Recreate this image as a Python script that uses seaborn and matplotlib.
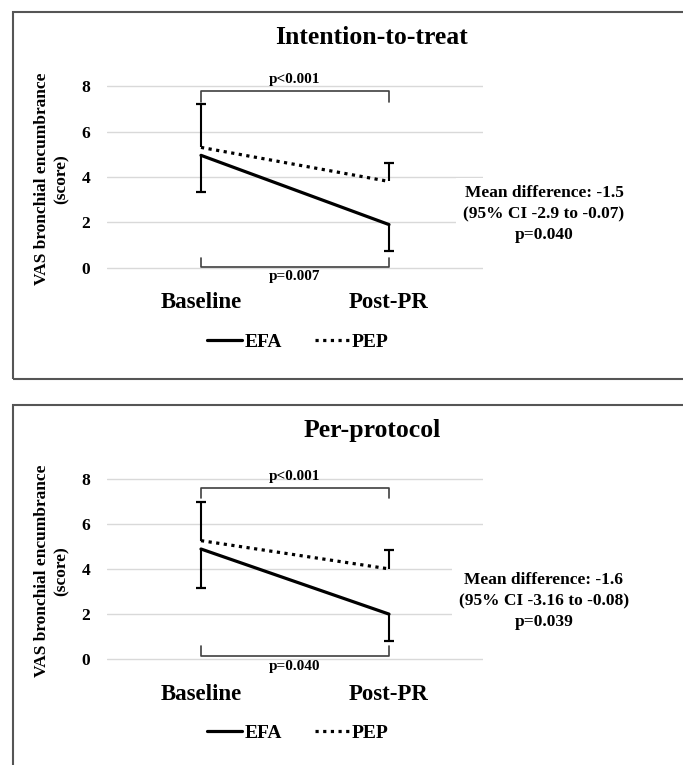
import matplotlib.pyplot as plt
from matplotlib.patches import Rectangle
import pandas as pd
import seaborn as sns

W, H = 683, 765

timepoints = ["Baseline", "Post-PR"]
groups = ["EFA", "PEP"]
panel_titles = ["Intention-to-treat", "Per-protocol"]

# group means and one-sided SD bars (EFA bar downwards, PEP bar upwards)
itt_efa_mean = [4.95, 1.9]
itt_efa_sd = [1.62, 1.16]
itt_pep_mean = [5.3, 3.8]
itt_pep_sd = [1.9, 0.83]

pp_efa_mean = [4.88, 2.0]
pp_efa_sd = [1.74, 1.18]
pp_pep_mean = [5.25, 4.0]
pp_pep_sd = [1.7, 0.82]

within_top_p = ["p<0.001", "p<0.001"]
within_bottom_p = ["p=0.007", "p=0.040"]
mean_diff = ["-1.5", "-1.6"]
mean_diff_ci = ["-2.9 to -0.07", "-3.16 to -0.08"]
between_p = ["0.040", "0.039"]

# layout (pixels of the 683x765 picture)
zero_px = [267.7, 659.3]
unit_px = [22.7, 22.6]
title_px = [38, 431]
legend_px = [342, 733]
note_px = [214, 601]
border_px = [(12, 379), (405, 800)]
top_bracket = [(7.78, 7.31), (7.6, 7.15)]
bottom_bracket = [(0.02, 0.41), (0.15, 0.59)]
p_label_y = [(8.3, -0.4), (8.08, -0.3)]

YMIN, YMAX = -1.0, 8.8

sns.set_style("white")
plt.rcParams["font.family"] = ["Liberation Serif", "DejaVu Serif"]
plt.rcParams["font.weight"] = "bold"
for key in ["text.color", "axes.labelcolor", "xtick.color", "ytick.color"]:
    plt.rcParams[key] = "black"


def draw_panel(fig, i, efa_mean, efa_sd, pep_mean, pep_sd):
    top = zero_px[i] - YMAX * unit_px[i]
    bottom = zero_px[i] - YMIN * unit_px[i]
    ax = fig.add_axes([107 / W, 1 - bottom / H, 376 / W, (bottom - top) / H])

    df = pd.DataFrame({
        "Time": timepoints * 2,
        "Score": efa_mean + pep_mean,
        "Group": [groups[0]] * 2 + [groups[1]] * 2,
    })
    sns.lineplot(data=df, x="Time", y="Score", hue="Group", style="Group",
                 palette={"EFA": "black", "PEP": "black"},
                 dashes={"EFA": "", "PEP": (1.0, 1.4)},
                 linewidth=2.3, sort=False, ax=ax)

    xs = [0, 1]
    # one-sided error bars
    low = [m - s for m, s in zip(efa_mean, efa_sd)]
    high = [m + s for m, s in zip(pep_mean, pep_sd)]
    ax.vlines(xs, low, efa_mean, color="black", lw=1.5)
    ax.vlines(xs, pep_mean, high, color="black", lw=1.5)
    ax.plot(xs, low, ls="none", marker="_", ms=7, mew=1.6, color="black")
    ax.plot(xs, high, ls="none", marker="_", ms=7, mew=1.6, color="black")

    # within-group brackets
    ty, tt = top_bracket[i]
    ax.plot([0, 0, 1, 1], [tt, ty, ty, tt], color="#404040", lw=1.2, clip_on=False)
    by, bt = bottom_bracket[i]
    ax.plot([0, 0, 1, 1], [bt, by, by, bt], color="#404040", lw=1.2, clip_on=False)
    ax.text(0.5, p_label_y[i][0], within_top_p[i], ha="center", va="center",
            fontsize=11, weight="bold")
    ax.text(0.5, p_label_y[i][1], within_bottom_p[i], ha="center", va="center",
            fontsize=11, weight="bold")

    ax.set_xlim(-0.5, 1.5)
    ax.set_ylim(YMIN, YMAX)
    ax.set_yticks([0, 2, 4, 6, 8])
    ax.set_xticks(xs, timepoints)
    ax.grid(axis="y", color="#d9d9d9", lw=1)
    ax.set_axisbelow(True)
    sns.despine(ax=ax, left=True, bottom=True)
    ax.tick_params(axis="y", length=0, pad=12, labelsize=12.5)
    ax.tick_params(axis="x", length=0, pad=1.5, labelsize=16.5)
    ax.set_xlabel("")
    ax.set_ylabel("VAS bronchial encumbrance\n(score)", fontsize=12.5,
                  weight="bold", linespacing=1.3)
    ax.yaxis.set_label_coords(-0.10, 0.5)

    sns.move_legend(ax, "center", bbox_to_anchor=(298 / W, 1 - legend_px[i] / H),
                    bbox_transform=fig.transFigure, ncol=2, frameon=False,
                    title=None, fontsize=14, handlelength=1.8,
                    handletextpad=0.1, columnspacing=1.7)
    for h in ax.get_legend().legend_handles:
        h.set_linewidth(2.3)
        h.set_color("black")

    fig.text(372 / W, 1 - title_px[i] / H, panel_titles[i], ha="center",
             va="center", fontsize=18.5, weight="bold")
    note = "Mean difference: %s\n(95%% CI %s)\np=%s" % (
        mean_diff[i], mean_diff_ci[i], between_p[i])
    fig.text(544 / W, 1 - note_px[i] / H, note, ha="center", va="center",
             fontsize=12.5, weight="bold", linespacing=1.45,
             bbox=dict(fc="white", ec="none", pad=5))

    y0, y1 = border_px[i]
    fig.patches.append(Rectangle((13 / W, 1 - y1 / H), 700 / W, (y1 - y0) / H,
                                 transform=fig.transFigure, fill=False,
                                 ec="#555555", lw=1.5))
    return ax


def main():
    fig = plt.figure(figsize=(W / 100, H / 100), dpi=100)
    draw_panel(fig, 0, itt_efa_mean, itt_efa_sd, itt_pep_mean, itt_pep_sd)
    draw_panel(fig, 1, pp_efa_mean, pp_efa_sd, pp_pep_mean, pp_pep_sd)
    fig.savefig("out.png", dpi=100)


if __name__ == "__main__":
    main()
